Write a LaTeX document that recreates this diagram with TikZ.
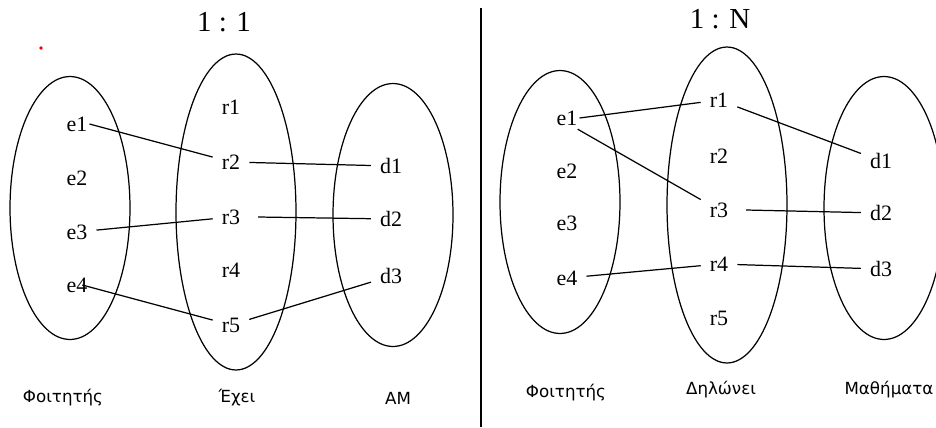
\documentclass[tikz,border=0pt]{standalone}
\usepackage{fontspec}
\setmainfont{Liberation Serif}
\newfontfamily\capfont{DejaVu Sans}
\usetikzlibrary{shapes.geometric}
\tikzset{
  set/.style={draw, ellipse, line width=0.7pt, minimum width=2.4cm, minimum height=5.26cm},
  bigset/.style={set, minimum height=6.32cm},
  item/.style={font=\fontsize{12.5}{14}\selectfont, inner xsep=5pt, inner ysep=2pt},
  caption/.style={font=\capfont\fontsize{9.5}{11}\selectfont},
  title/.style={font=\fontsize{16.5}{19}\selectfont},
  link/.style={line width=0.7pt},
}
\begin{document}
\begin{tikzpicture}[x=0.02cm, y=-0.02cm]
\useasboundingbox (0,0) rectangle (936,427);
% left half: 1 : 1
\node[title] (t1) at (224,22) {1 : 1};
\node[circle, fill=red, inner sep=0.8pt] (dot) at (41,48) {};
\node[set] (astud) at (70,208) {};
\node[bigset] (arel) at (236,212) {};
\node[set] (aam) at (393,215) {};
\foreach \n/\y in {1/124,2/178,3/232,4/285} \node[item] (ae\n) at (77,\y) {e\n};
\foreach \n/\y in {1/107,2/162,3/217,4/270,5/325} \node[item] (ar\n) at (231,\y) {r\n};
\foreach \n/\y in {1/166,2/219,3/276} \node[item] (ad\n) at (391,\y) {d\n};
\draw[link] ([xshift=-4pt]ae1.east)--(ar2);\draw[link] (ar2)--(ad1);
\draw[link] (ae3)--(ar3);\draw[link] ([xshift=5pt]ar3.east)--(ad2);
\draw[link] ([xshift=3pt]ae4.center)--(ar5);\draw[link] (ar5)--(ad3);
\node[caption] (acap1) at (63,398) {Φοιτητής};
\node[caption] (acap2) at (237,398) {Έχει};
\node[caption] (acap3) at (398,398) {AM};
% divider
\coordinate (top) at (481,8);\coordinate (bot) at (481,427);
\draw[line width=0.8pt] (top)--(bot);
% right half: 1 : N
\node[title] (t2) at (720,19) {1 : N};
\node[set] (bstud) at (560,202) {};
\node[bigset] (brel) at (727,205) {};
\node[set] (bcourse) at (884,208) {};
\foreach \n/\y in {1/118,2/171,3/223,4/278} \node[item] (be\n) at (567,\y) {e\n};
\foreach \n/\y in {1/100,2/156,3/210,4/264,5/318} \node[item] (br\n) at (719,\y) {r\n};
\foreach \n/\y in {1/161,2/213,3/269} \node[item] (bd\n) at (881,\y) {d\n};
\draw[link] ([xshift=-4pt]be1.east)--(br1);\draw[link] ([xshift=-5pt]be1.south east)--(br3);
\draw[link] (br1)--(bd1);\draw[link] ([xshift=5pt]br3.east)--(bd2);
\draw[link] (be4)--(br4);\draw[link] (br4)--(bd3);
\node[caption] (bcap1) at (566,393) {Φοιτητής};
\node[caption] (bcap2) at (721,390) {Δηλώνει};
\node[caption] (bcap3) at (889,390) {Μαθήματα};
\end{tikzpicture}
\end{document}
